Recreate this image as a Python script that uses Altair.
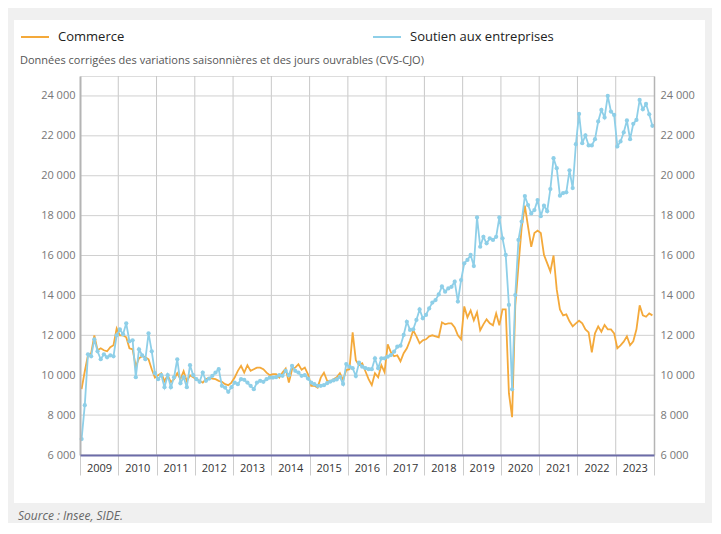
import altair as alt
import pandas as pd

years = list(range(2009, 2024))
series_names = ["Commerce", "Soutien aux entreprises"]
series_colors = ["#f4a93a", "#8ecfe8"]

commerce = [
    9300, 10200, 11000, 11100, 12000, 11250, 11350, 11250, 11200, 11400, 11500, 12350,   # 2009
    12000, 12000, 11900, 11350, 11300, 10430, 10850, 10950, 10900, 10800, 10300, 9880,   # 2010
    10000, 10100, 9700, 10000, 9650, 9800, 10100, 9800, 10200, 9700, 10000, 9900,        # 2011
    9800, 9720, 9630, 9800, 9880, 9830, 9800, 9720, 9670, 9550, 9500, 9630,              # 2012
    9880, 10220, 10470, 10130, 10500, 10220, 10300, 10380, 10380, 10300, 10130, 10000,   # 2013
    10050, 10050, 9880, 10130, 10330, 9630, 10300, 10380, 10550, 10270, 10380, 10050,    # 2014
    9470, 9470, 9380, 9880, 10130, 9720, 9700, 9800, 9900, 10100, 9760, 10260,           # 2015
    10300, 12150, 10750, 10500, 10600, 10200, 9800, 9500, 10100, 9900, 10500, 10150,     # 2016
    11550, 11150, 10950, 11000, 10700, 11100, 11350, 11750, 12250, 11950, 11600, 11750,  # 2017
    11800, 11950, 12000, 11950, 11900, 12650, 12550, 12600, 12600, 12400, 12000, 11800,  # 2018
    13450, 12900, 13250, 12750, 13150, 12250, 12550, 12800, 12600, 12500, 13100, 12500,  # 2019
    13300, 13300, 9100, 7900, 13500, 15500, 17400, 18500, 17450, 16440, 17130, 17250,    # 2020
    17130, 16030, 15620, 15200, 16000, 14300, 13300, 13000, 13050, 12700, 12450, 12600,  # 2021
    12730, 12600, 12300, 12150, 11150, 12100, 12450, 12180, 12520, 12300, 12300, 12100,  # 2022
    11350, 11500, 11680, 11950, 11500, 11700, 12300, 13500, 13000, 12930, 13100, 13000,  # 2023
]

soutien = [
    6800, 8500, 11050, 10950, 11800, 11200, 10800, 11050, 10900, 11000, 10950, 12000,    # 2009
    12300, 12050, 12600, 11700, 11750, 9900, 11300, 11000, 10800, 12100, 11200, 10100,   # 2010
    9800, 10000, 9400, 10000, 9400, 9900, 10800, 9600, 9900, 9400, 10500, 10000,         # 2011
    9800, 9670, 10130, 9720, 9830, 9970, 10130, 10300, 9470, 9380, 9170, 9400,           # 2012
    9630, 9550, 9800, 9770, 9630, 9470, 9300, 9630, 9720, 9670, 9800, 9880,              # 2013
    9880, 9900, 10000, 9970, 10220, 10000, 10470, 10220, 10130, 9970, 10000, 9830,       # 2014
    9630, 9550, 9470, 9470, 9500, 9600, 9680, 9740, 9790, 9920, 9560, 10560,             # 2015
    10430, 10350, 9960, 10630, 10430, 10350, 10300, 10300, 10850, 10350, 10850, 10850,   # 2016
    10930, 11010, 11180, 11430, 11480, 12020, 12680, 12270, 12300, 12770, 13300, 12850,  # 2017
    13020, 13350, 13640, 13770, 14050, 14450, 14190, 14350, 14430, 14690, 13690, 14770,  # 2018
    15610, 15780, 16030, 15470, 17910, 16440, 16940, 16610, 16860, 16780, 16940, 17910,  # 2019
    16860, 16030, 13520, 9290, 14020, 16780, 17700, 18980, 18530, 18110, 18280, 18780,   # 2020
    17970, 18500, 18220, 19330, 20880, 20380, 19000, 19130, 19170, 20270, 19380, 21580,  # 2021
    23100, 21630, 22020, 21520, 21520, 21830, 22720, 23300, 22920, 24000, 23220, 23050,  # 2022
    21470, 21720, 22170, 22770, 21830, 22600, 22800, 23800, 23330, 23600, 23080, 22500,  # 2023
]

y_ticks = list(range(6000, 24001, 2000))
x_ticks = list(range(2009, 2025))
grid_years = list(range(2010, 2024))

subtitle = "Données corrigées des variations saisonnières et des jours ouvrables (CVS-CJO)"
source = "Source : Insee, SIDE."

t = [y + (m - 0.5) / 12 for y in years for m in range(1, 13)]
df = pd.DataFrame({
    "t": t * 2,
    "value": commerce + soutien,
    "serie": [series_names[0]] * len(commerce) + [series_names[1]] * len(soutien),
})

FONT = "Open Sans"
FRAME = "#f0f0f0"
ydom = [6000, 25000]
yscale = alt.Scale(domain=ydom, nice=False, zero=False)
xscale = alt.Scale(domain=[2009, 2024], nice=False, zero=False)
lab = "replace(format(datum.value, ','), ',', ' ')"

x_axis = alt.Axis(
    values=x_ticks, format="d",
    labelExpr="datum.value >= 2024 ? '' : format(datum.value, 'd')",
    labelOffset=19, labelAlign="center", labelFlush=False, labelPadding=-13,
    labelFontSize=11, labelColor="#333", labelFont=FONT,
    ticks=True, tickSize=20, tickColor="#cccccc", tickWidth=1,
    grid=False, domain=True, domainColor="#6c6ca8", domainWidth=2,
    title=None, zindex=2,
)

one = pd.DataFrame({"p": [0]})
frame_top = alt.Chart(one).mark_rect(color=FRAME).encode(
    x=alt.value(-72), x2=alt.value(632), y=alt.value(-68), y2=alt.value(-56))
frame_left = alt.Chart(one).mark_rect(color=FRAME).encode(
    x=alt.value(-72), x2=alt.value(-66), y=alt.value(-68), y2=alt.value(447))
frame_right = alt.Chart(one).mark_rect(color=FRAME).encode(
    x=alt.value(625), x2=alt.value(632), y=alt.value(-68), y2=alt.value(447))
frame_bottom = alt.Chart(one).mark_rect(color=FRAME).encode(
    x=alt.value(-72), x2=alt.value(632), y=alt.value(427), y2=alt.value(447))

vgrid = alt.Chart(pd.DataFrame({"yr": grid_years})).mark_rule(
    color="#c8c8c8", strokeWidth=1
).encode(x=alt.X("yr:Q", scale=xscale, axis=x_axis))

hgrid = alt.Chart(pd.DataFrame({"v": y_ticks})).mark_rule(
    color="#d0d0d0", strokeWidth=1
).encode(y=alt.Y("v:Q", scale=yscale, axis=None))

lines = alt.Chart(df).mark_line(strokeWidth=1.8).encode(
    x=alt.X("t:Q", scale=xscale, axis=x_axis),
    y=alt.Y("value:Q", scale=yscale, axis=alt.Axis(
        orient="left", values=y_ticks, labelExpr=lab, title=None, grid=False,
        ticks=False, domain=True, domainColor="#b4b4b4", domainWidth=2,
        labelPadding=5, labelColor="#777", labelFontSize=11, labelFont=FONT, zindex=1)),
    color=alt.Color("serie:N", scale=alt.Scale(domain=series_names, range=series_colors),
                    legend=alt.Legend(
                        orient="none", legendX=-60, legendY=-54, direction="horizontal",
                        columns=2, columnPadding=244, symbolType="stroke",
                        symbolSize=784, symbolStrokeWidth=2, labelFontSize=13,
                        labelColor="#222", labelFont=FONT, labelOffset=8, zindex=1,
                        title=subtitle, titleOrient="bottom", titleAnchor="start",
                        titleAlign="left", titleFontSize=11, titleFontWeight="normal",
                        titleColor="#555", titleFont=FONT, titlePadding=11, titleLimit=600)),
)

points = alt.Chart(df).transform_filter(
    alt.datum.serie == series_names[1]
).mark_circle(size=18, opacity=1, color=series_colors[1]).encode(
    x=alt.X("t:Q", scale=xscale, axis=x_axis),
    y=alt.Y("value:Q", scale=yscale, axis=alt.Axis(
        orient="right", values=y_ticks, labelExpr=lab, title=None, grid=False,
        ticks=False, domain=True, domainColor="#b4b4b4", domainWidth=1.5,
        labelPadding=6, labelColor="#777", labelFontSize=11, labelFont=FONT, zindex=1)),
)

chart = alt.layer(frame_top, frame_left, frame_right, frame_bottom,
                  vgrid, hgrid, lines, points).resolve_axis(
    y="independent"
).properties(
    width=574, height=379,
    padding={"left": 72, "top": 68, "right": 58, "bottom": 68},
    autosize=alt.AutoSizeParams(type="none"),
    background="white",
    title=alt.TitleParams(text=source, orient="bottom", anchor="start", fontSize=12,
                          color="#666", font=FONT, fontWeight="normal", fontStyle="italic",
                          dx=10, dy=-12, offset=0, zindex=1),
).configure_view(strokeWidth=0).configure(font=FONT)

chart.save("out.html", embed_options={"renderer": "svg", "actions": False})
